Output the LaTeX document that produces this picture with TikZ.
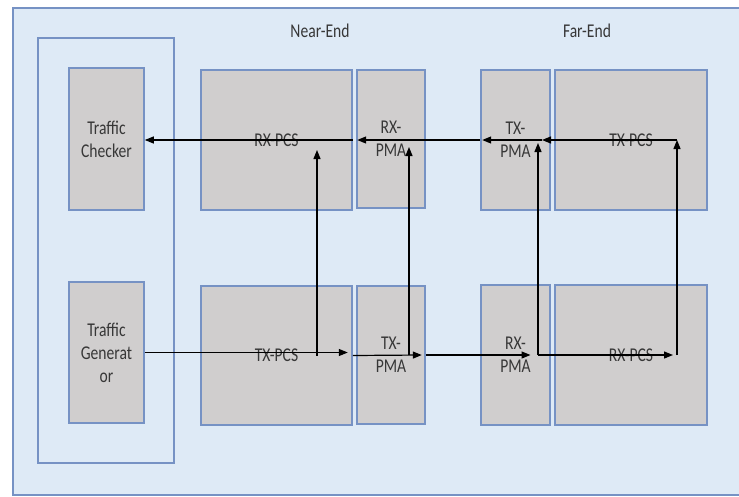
\documentclass[tikz,border=0pt]{standalone}
\usepackage{fontspec}
\setmainfont{Carlito}[FakeStretch=0.8]
\usepackage{tikz}
\usetikzlibrary{arrows.meta, positioning}
\definecolor{benchblue}{RGB}{222,234,246}
\definecolor{edgeblue}{RGB}{118,146,196}
\definecolor{layergray}{RGB}{208,206,206}
\definecolor{labelgray}{RGB}{55,55,55}

\begin{document}
\begin{tikzpicture}[
  x=1pt, y=-1pt,
  font=\fontsize{19.5}{23}\selectfont,
  layer/.style={draw=edgeblue, line width=1.6pt, fill=layergray, align=center,
    text=labelgray, inner sep=1pt, minimum height=140pt},
  arr/.style={-{Triangle[length=9pt,width=7pt]}, line width=1.2pt, draw=black},
  frame/.style={draw=edgeblue, line width=1.6pt}
]
  \useasboundingbox (0,0) rectangle (739,496);
  % background and test bench box
  \fill[benchblue] (13,8) rectangle (739,495);
  \draw[frame] (739,8) -- (13,8) -- (13,495) -- (739,495);
  \draw[frame] (38,38) rectangle (174,463);
  \node[text=labelgray] (near) at (320,31) {Near-End};
  \node[text=labelgray] (far) at (587,31) {Far-End};
  % top row
  \node[layer, minimum width=75pt, minimum height=142pt] (chk) at (106.5,139) {Traffic\\Checker};
  \node[layer, minimum width=151pt] (rxpcsN) at (276.5,140) {RX-PCS};
  \node[layer, minimum width=68pt, minimum height=138pt] (rxpmaN) at (391,139) {RX-\\PMA};
  \node[layer, minimum width=69pt] (txpmaF) at (515.5,140) {TX-\\PMA};
  \node[layer, minimum width=152pt] (txpcsF) at (631,140) {TX-PCS};
  % bottom row
  \node[layer, minimum width=75pt, minimum height=141pt] (gen) at (106.5,352.5) {Traffic\\Generat\\or};
  \node[layer, minimum width=151pt, minimum height=139pt] (txpcsN) at (276.5,355.5) {TX-PCS};
  \node[layer, minimum width=68pt, minimum height=138pt] (txpmaN) at (391,355) {TX-\\PMA};
  \node[layer, minimum width=69pt] (rxpmaF) at (515.5,355) {RX-\\PMA};
  \node[layer, minimum width=152pt] (rxpcsF) at (631,355) {RX-PCS};
  % outgoing path
  \draw[arr] (gen.east) -- ([xshift=-5pt]txpcsN.east |- gen.east);
  \draw[arr] (txpcsN.east) -- ([xshift=-4pt]txpmaN.east);
  \draw[arr] (txpmaN.east) -- ([xshift=15pt]rxpmaF.center);
  \draw[arr] ([xshift=22.5pt]rxpmaF.center) -- ([xshift=42pt]rxpcsF.center);
  % loopbacks
  \draw[arr] ([xshift=40.5pt]txpcsN.center) -- ([xshift=40.5pt,yshift=-10pt]rxpcsN.center);
  \draw[arr] ([xshift=18pt]txpmaN.center) -- ([xshift=18pt,yshift=-8pt]rxpmaN.center);
  \draw[arr] ([xshift=22.5pt]rxpmaF.center) -- ([xshift=22.5pt,yshift=-3pt]txpmaF.center);
  \draw[arr] ([xshift=46pt]rxpcsF.center) -- ([xshift=46pt]txpcsF.center);
  % return path
  \draw[arr] ([xshift=46pt]txpcsF.center) -- ([xshift=26.5pt]txpmaF.center);
  \draw[arr] ([xshift=26.5pt]txpmaF.center) -- ([xshift=2pt]txpmaF.west);
  \draw[arr] (txpmaF.west) -- ([xshift=1pt]rxpmaN.west |- txpmaF.west);
  \draw[arr] (rxpcsN.east) -- (chk.east |- rxpcsN.east);
\end{tikzpicture}
\end{document}
